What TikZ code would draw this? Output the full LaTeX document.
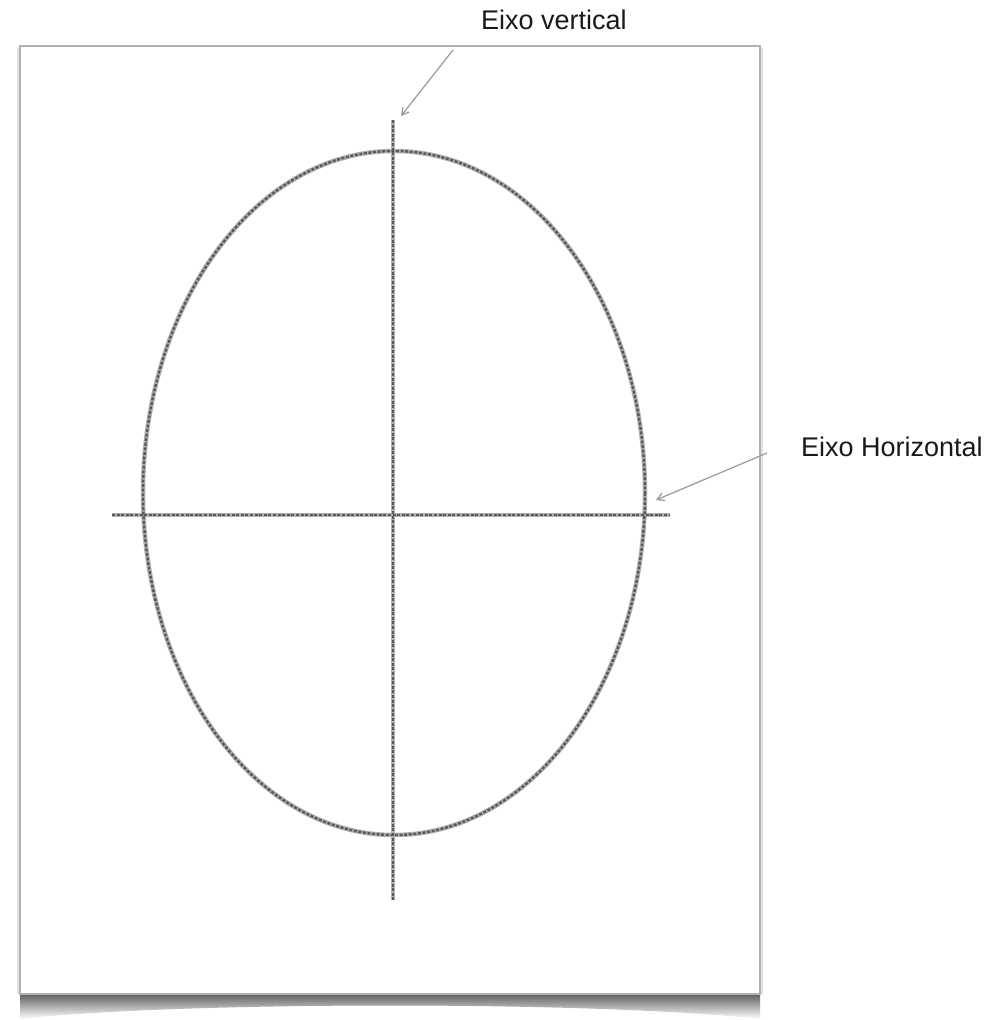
\documentclass[tikz,border=0pt]{standalone}
\usepackage{fontspec}
\setmainfont{Liberation Sans}
\usetikzlibrary{arrows.meta}
\begin{document}
\begin{tikzpicture}[x=1pt,y=-1pt,
  sketchbase/.style={draw=black!30,line width=4.5pt},
  sketch/.style={draw=black!65,line width=2.4pt,dash pattern=on 3pt off 1.6pt},
  lbl/.style={font=\fontsize{27}{30}\selectfont,text=black!90,inner sep=0pt},
  pointer/.style={draw=black!40,line width=1.2pt,-{Straight Barb[length=7pt,width=8pt]}}]
\useasboundingbox (0,0) rectangle (1005,1020);
% page shadow
\shade[top color=black!65,bottom color=white]
  (20,993) -- (760,993) -- (760,1019) .. controls (600,1001) and (180,1001) .. (20,1019) -- cycle;
% paper
\fill[black!12] (17,48) rectangle (763,994);
\draw[draw=black!30,line width=1.2pt,fill=white] (20,46) rectangle (760,994);
% egg outline and axes
\draw[sketchbase] (394,493) ellipse [x radius=251,y radius=342];
\draw[sketchbase] (112,515) -- (670,515);
\draw[sketchbase] (393,120) -- (393,900);
\draw[sketch] (394,493) ellipse [x radius=251,y radius=342];
\draw[sketch] (112,515) -- (670,515);
\draw[sketch] (393,120) -- (393,900);
% labels
\node[lbl] (vert) at (554,20) {Eixo vertical};
\node[lbl] (horiz) at (892,447) {Eixo Horizontal};
\coordinate (vs) at (453,50);
\coordinate (ve) at (401,116);
\coordinate (hs) at (767,453);
\coordinate (he) at (656,500);
\draw[pointer] (vs) -- (ve);
\draw[pointer] (hs) -- (he);
\end{tikzpicture}
\end{document}
